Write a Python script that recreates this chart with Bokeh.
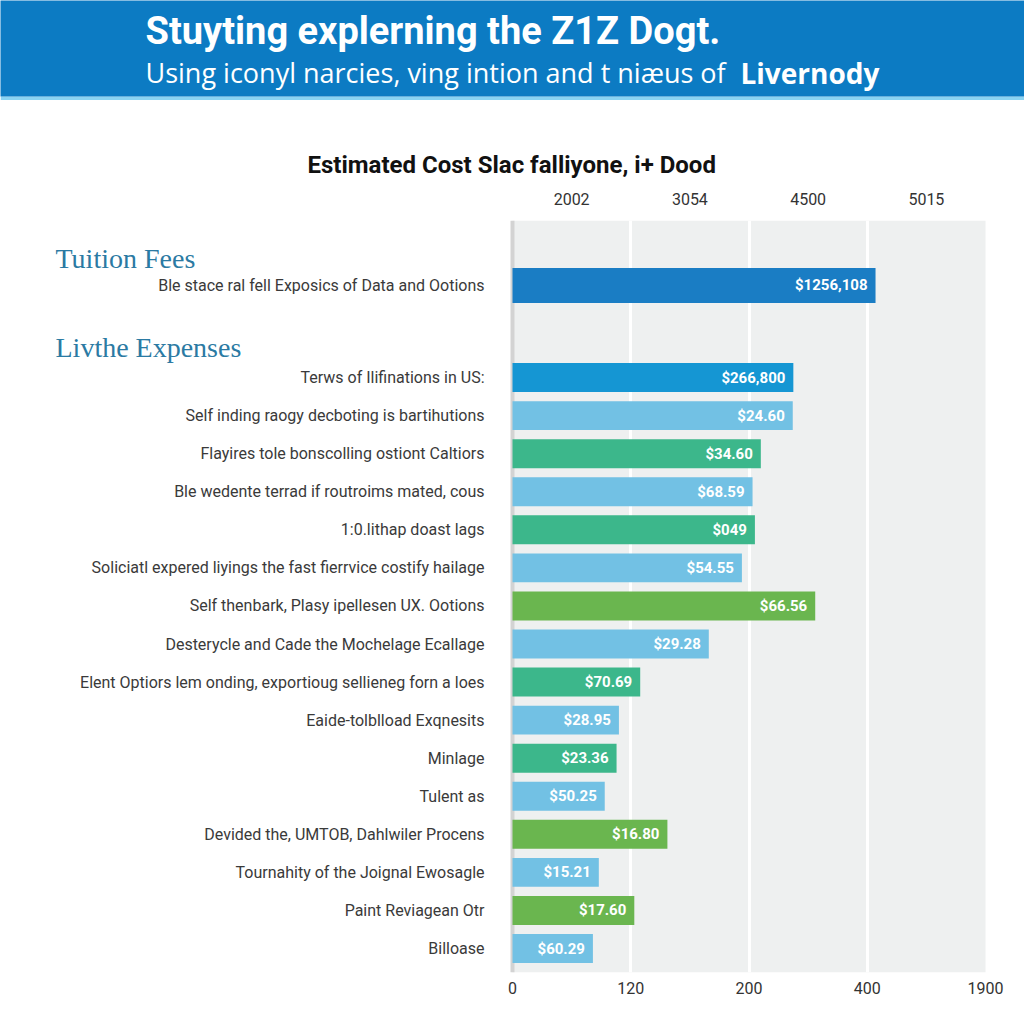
from bokeh.plotting import figure
from bokeh.models import Range1d, FixedTicker, LinearAxis, Label, Title, Span, BoxAnnotation
from bokeh.layouts import column
from bokeh.embed import file_html
from bokeh.resources import INLINE
from bokeh.core.properties import value

# ---------------- data ----------------
header_title = "Stuyting explerning the Z1Z Dogt."
header_sub = "Using iconyl narcies, ving intion and t niæus of"
header_sub_bold = "Livernody"
chart_title = "Estimated Cost Slac falliyone, i+ Dood"

section_names = ["Tuition Fees", "Livthe Expenses"]

tuition_items = ["Ble stace ral fell Exposics of Data and Ootions"]
tuition_values = [3.07]
tuition_labels = ["$1256,108"]
tuition_kind = ["tuition"]

living_items = [
    "Terws of Ilifinations in US:",
    "Self inding raogy decboting is bartihutions",
    "Flayires tole bonscolling ostiont Caltiors",
    "Ble wedente terrad if routroims mated, cous",
    "1:0.lithap doast lags",
    "Soliciatl expered liyings the fast fierrvice costify hailage",
    "Self thenbark, Plasy ipellesen UX. Ootions",
    "Desterycle and Cade the Mochelage Ecallage",
    "Elent Optiors lem onding, exportioug sellieneg forn a loes",
    "Eaide-tolblload Exqnesits",
    "Minlage",
    "Tulent as",
    "Devided the, UMTOB, Dahlwiler Procens",
    "Tournahity of the Joignal Ewosagle",
    "Paint Reviagean Otr",
    "Billoase",
]
living_values = [2.375, 2.37, 2.10, 2.03, 2.05, 1.94, 2.56, 1.66,
                 1.08, 0.90, 0.88, 0.78, 1.31, 0.73, 1.03, 0.68]
living_labels = ["$266,800", "$24.60", "$34.60", "$68.59", "$049", "$54.55",
                 "$66.56", "$29.28", "$70.69", "$28.95", "$23.36", "$50.25",
                 "$16.80", "$15.21", "$17.60", "$60.29"]
living_kind = ["blue", "light", "teal", "light", "teal", "light", "lime", "light",
               "teal", "light", "teal", "light", "lime", "light", "lime", "light"]

bottom_tick_labels = ["0", "120", "200", "400", "1900"]
top_tick_labels = ["2002", "3054", "4500", "5015"]

# ---------------- styles ----------------
palette = {"tuition": "#1a7dc4", "blue": "#1596d3", "light": "#72c1e4",
           "teal": "#3cb78b", "lime": "#6ab64f"}
SECTION_GAP = 2.42
FONT = "Roboto"
W = 1024

# ---------------- banner ----------------
banner = figure(width=W, height=100, x_range=Range1d(0, W), y_range=Range1d(96, 0),
                x_axis_type=None, y_axis_type=None, title=None,
                min_border_left=0, min_border_right=0, min_border_top=0, min_border_bottom=4,
                outline_line_color=None, background_fill_color="#0c7bc3",
                border_fill_color="#8ad4f3", toolbar_location=None, output_backend="svg")
banner.frame_align = False
banner.grid.visible = False
banner.add_layout(Label(x=145, y=30, text=header_title, text_color="white",
                        text_font=FONT, text_font_style="bold", text_font_size="38px",
                        text_baseline="alphabetic"))
banner.add_layout(Label(x=145, y=72, text=header_sub, text_color="white",
                        text_font="Open Sans", text_font_size="27px",
                        text_baseline="alphabetic"))
banner.add_layout(Label(x=740, y=72, text=header_sub_bold, text_color="white",
                        text_font="Open Sans", text_font_style="bold",
                        text_font_size="28px", text_baseline="alphabetic"))

# ---------------- main chart ----------------
items = tuition_items + living_items
vals = tuition_values + living_values
labels = tuition_labels + living_labels
kinds = tuition_kind + living_kind
ys = [0.0] + [round(SECTION_GAP + i, 3) for i in range(len(living_items))]
heights = [0.92] + [0.76] * len(living_items)
colors = [palette[k] for k in kinds]

# frame spans the full width: x = 0 sits at pixel 512, x = 4 at pixel 985
p = figure(width=W, height=920, x_range=Range1d(-4.3298, 4.3298),
           y_range=Range1d(18.05, -1.707), title=None, y_axis_type=None,
           min_border_left=0, min_border_right=0, min_border_top=120, min_border_bottom=48,
           background_fill_color="white", border_fill_color="white",
           outline_line_color=None, toolbar_location=None, output_backend="svg")
p.frame_align = False

# plot band and axis line
p.add_layout(BoxAnnotation(left=0, right=len(bottom_tick_labels) - 1, fill_color="#eef0f0",
                           fill_alpha=1, line_color=None, level="image"))
p.add_layout(Span(location=0, dimension="height", line_color="#d3d3d3", line_width=4,
                  level="underlay"))

p.hbar(y=ys, left=0, right=vals, height=heights, color=colors, line_color=None)
p.text(x=vals, y=ys, text=labels, x_offset=-8, text_align="right", text_baseline="middle",
       text_color="white", text_font=value(FONT), text_font_style="bold",
       text_font_size="15px")

# row labels
p.text(x=[0] * len(items), y=ys, text=items, x_offset=-28, text_align="right",
       text_baseline="middle", text_color="#3a3a3a", text_font=value(FONT),
       text_font_size="16px")

# section headings
head_ys = [-0.709, 1.629]
for hy, name in zip(head_ys, section_names):
    p.add_layout(Label(x=0, y=hy, x_offset=-457, text=name,
                       text_font="'Liberation Serif', 'DejaVu Serif', serif",
                       text_font_size="28px", text_color="#2b7aa3",
                       text_baseline="middle", text_align="left"))

# grid
p.ygrid.visible = False
p.xgrid.ticker = FixedTicker(ticks=[1, 2, 3])
p.xgrid.grid_line_color = "white"
p.xgrid.grid_line_width = 3

# bottom axis
xa = p.xaxis[0]
xa.ticker = FixedTicker(ticks=list(range(len(bottom_tick_labels))))
xa.major_label_overrides = {i: t for i, t in enumerate(bottom_tick_labels)}
xa.axis_line_color = None
xa.major_tick_line_color = None
xa.minor_tick_line_color = None
xa.major_label_standoff = 3
xa.major_label_text_font = FONT
xa.major_label_text_font_size = "16px"
xa.major_label_text_color = "#333333"

# top axis
ta = LinearAxis(ticker=FixedTicker(ticks=[i + 0.5 for i in range(len(top_tick_labels))]),
                major_label_overrides={i + 0.5: t for i, t in enumerate(top_tick_labels)},
                axis_line_color=None, major_tick_line_color=None, minor_tick_line_color=None,
                major_label_standoff=10, major_label_text_font=FONT,
                major_label_text_font_size="16px", major_label_text_color="#333333")
p.add_layout(ta, "above")

# chart title above the top axis
p.add_layout(Title(text=chart_title, align="left", offset=307, standoff=22,
                   text_font=FONT, text_font_style="bold", text_font_size="24px",
                   text_color="#111111"), "above")

layout = column(banner, p, spacing=0)
open("out.html", "w").write(file_html(layout, INLINE))
